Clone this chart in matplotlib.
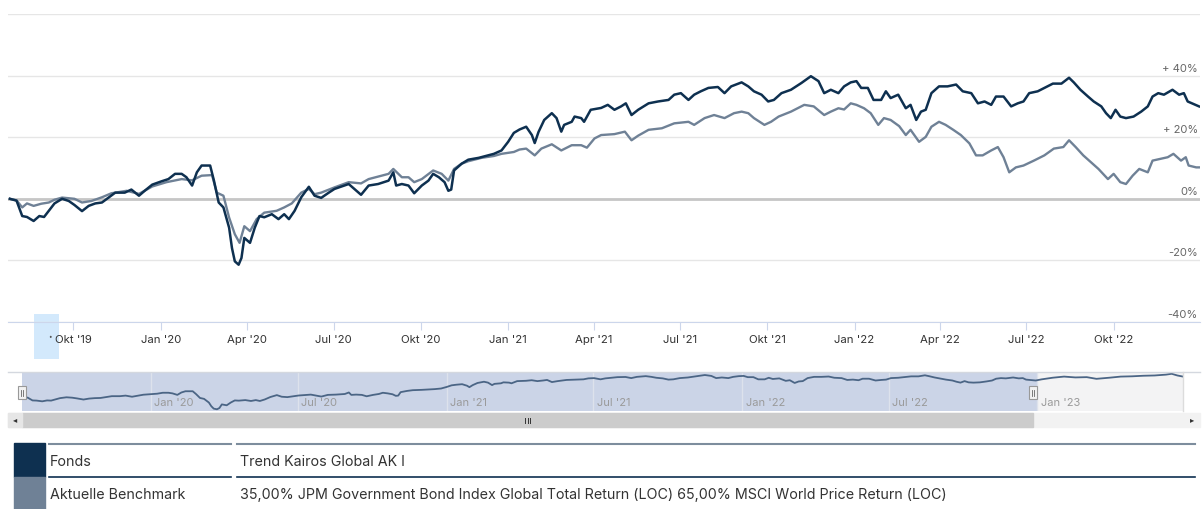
import pandas as pd
import matplotlib
matplotlib.use("Agg")
import matplotlib.pyplot as plt
from matplotlib.patches import Rectangle
from matplotlib.lines import Line2D

plt.rcParams['font.family'] = ['Inter', 'DejaVu Sans']

# --- data (percent performance) ---
fund_dates = [
    "2019-07-26", "2019-08-02", "2019-08-08", "2019-08-13", "2019-08-20", "2019-08-26", "2019-08-31",
    "2019-09-05", "2019-09-11", "2019-09-19", "2019-09-26", "2019-10-02", "2019-10-10", "2019-10-17",
    "2019-10-24", "2019-10-31", "2019-11-07", "2019-11-14", "2019-11-24", "2019-12-01", "2019-12-09",
    "2019-12-15", "2019-12-23",
    "2020-01-02", "2020-01-09", "2020-01-16", "2020-01-23", "2020-01-28", "2020-02-03", "2020-02-08",
    "2020-02-13", "2020-02-22", "2020-02-26", "2020-03-02", "2020-03-07", "2020-03-13", "2020-03-16",
    "2020-03-19", "2020-03-23", "2020-03-26", "2020-03-29", "2020-04-04", "2020-04-09", "2020-04-14",
    "2020-04-19", "2020-04-27", "2020-05-04", "2020-05-10", "2020-05-15", "2020-05-21", "2020-05-28",
    "2020-06-05", "2020-06-11", "2020-06-18", "2020-06-26", "2020-07-02", "2020-07-17", "2020-07-23",
    "2020-07-30", "2020-08-07", "2020-08-17", "2020-08-28", "2020-09-02", "2020-09-05", "2020-09-11",
    "2020-09-18", "2020-09-24", "2020-10-02", "2020-10-09", "2020-10-14", "2020-10-20", "2020-10-26",
    "2020-10-30", "2020-11-02", "2020-11-05", "2020-11-13", "2020-11-20", "2020-12-01", "2020-12-11",
    "2020-12-17", "2020-12-25",
    "2021-01-01", "2021-01-07", "2021-01-13", "2021-01-20", "2021-01-26", "2021-01-29", "2021-02-02",
    "2021-02-08", "2021-02-16", "2021-02-21", "2021-02-26", "2021-03-01", "2021-03-09", "2021-03-12",
    "2021-03-19", "2021-03-22", "2021-03-29", "2021-04-09", "2021-04-16", "2021-04-23", "2021-04-30",
    "2021-05-05", "2021-05-11", "2021-05-18", "2021-05-29", "2021-06-08", "2021-06-19", "2021-06-25",
    "2021-07-02", "2021-07-10", "2021-07-16", "2021-07-23", "2021-07-31", "2021-08-10", "2021-08-17",
    "2021-08-24", "2021-09-04", "2021-09-11", "2021-09-17", "2021-09-25", "2021-10-02", "2021-10-08",
    "2021-10-16", "2021-10-26", "2021-11-06", "2021-11-16", "2021-11-24", "2021-11-30", "2021-12-07",
    "2021-12-15", "2021-12-21", "2021-12-28",
    "2022-01-03", "2022-01-08", "2022-01-15", "2022-01-21", "2022-01-29", "2022-02-03", "2022-02-08",
    "2022-02-16", "2022-02-24", "2022-03-01", "2022-03-07", "2022-03-12", "2022-03-17", "2022-03-23",
    "2022-03-31", "2022-04-09", "2022-04-18", "2022-04-25", "2022-05-04", "2022-05-11", "2022-05-18",
    "2022-05-25", "2022-05-30", "2022-06-07", "2022-06-15", "2022-06-22", "2022-06-28", "2022-07-04",
    "2022-07-13", "2022-07-20", "2022-07-29", "2022-08-07", "2022-08-15", "2022-08-20", "2022-08-27",
    "2022-09-04", "2022-09-10", "2022-09-18", "2022-09-23", "2022-09-28", "2022-10-03", "2022-10-08",
    "2022-10-14", "2022-10-22", "2022-10-30", "2022-11-06", "2022-11-11", "2022-11-17", "2022-11-23",
    "2022-12-02", "2022-12-09", "2022-12-14", "2022-12-18", "2022-12-24", "2022-12-30",
]
fund_values = [
    0.0, -0.6, -5.6, -5.9, -7.2, -5.6, -5.9,
    -3.9, -1.5, 0.0, -0.7, -2.0, -4.0, -2.3,
    -1.5, -1.2, 0.4, 2.0, 2.0, 3.0, 1.0,
    2.6, 4.6,
    5.7, 6.4, 8.1, 8.1, 7.0, 4.3, 8.6,
    10.8, 10.8, 5.9, -1.2, -2.8, -9.4, -16.0,
    -20.3, -21.4, -19.2, -12.7, -14.3, -9.4, -5.6,
    -6.0, -5.0, -6.6, -5.0, -6.6, -3.9, 0.5,
    3.9, 1.0, 0.3, 2.0, 3.2, 4.8, 3.2,
    1.3, 4.3, 4.8, 5.9, 8.6, 4.3, 4.8,
    4.3, 1.8, 4.3, 5.9, 8.1, 7.0, 5.4,
    2.6, 3.0, 9.2, 11.4, 12.7, 13.3, 14.1,
    14.6, 15.7,
    18.5, 21.4, 22.5, 23.4, 20.7, 18.1, 21.7,
    25.6, 27.8, 26.2, 21.8, 24.0, 25.0, 26.7,
    26.2, 25.0, 28.9, 29.5, 30.5, 28.9, 30.0,
    31.0, 27.2, 28.9, 31.0, 31.6, 32.1, 33.8,
    34.3, 32.1, 33.8, 34.9, 36.0, 36.3, 34.3,
    36.5, 37.8, 36.5, 34.9, 33.8, 31.6, 32.1,
    34.3, 35.4, 37.6, 39.8, 38.2, 34.3, 35.4,
    34.3, 36.5, 37.8,
    38.2, 36.0, 36.0, 32.1, 32.1, 34.9, 32.7,
    33.8, 29.4, 30.5, 25.6, 28.3, 28.9, 34.3,
    36.5, 36.5, 37.1, 34.9, 34.3, 31.0, 31.6,
    30.5, 33.2, 33.2, 30.0, 31.0, 31.6, 34.3,
    34.9, 36.0, 37.4, 37.4, 39.3, 37.8, 35.4,
    33.2, 31.6, 30.0, 27.8, 26.2, 28.9, 26.7,
    26.2, 26.7, 28.3, 30.0, 33.2, 34.3, 33.8,
    35.4, 33.8, 34.3, 31.6, 30.8, 30.0,
]

bench_dates = [
    "2019-07-26", "2019-08-02", "2019-08-08", "2019-08-13", "2019-08-20", "2019-08-28", "2019-09-05",
    "2019-09-11", "2019-09-19", "2019-10-02", "2019-10-10", "2019-10-20", "2019-10-31", "2019-11-10",
    "2019-11-26", "2019-12-09", "2019-12-23",
    "2020-01-07", "2020-01-23", "2020-02-03", "2020-02-13", "2020-02-24", "2020-02-29", "2020-03-07",
    "2020-03-13", "2020-03-19", "2020-03-24", "2020-03-29", "2020-04-04", "2020-04-11", "2020-04-19",
    "2020-05-02", "2020-05-10", "2020-05-18", "2020-05-28", "2020-06-05", "2020-06-11", "2020-06-18",
    "2020-07-02", "2020-07-17", "2020-07-30", "2020-08-07", "2020-08-28", "2020-09-02", "2020-09-11",
    "2020-09-18", "2020-09-24", "2020-10-02", "2020-10-14", "2020-10-23", "2020-10-30", "2020-11-05",
    "2020-11-13", "2020-11-20", "2020-12-04", "2020-12-17", "2020-12-25",
    "2021-01-07", "2021-01-13", "2021-01-20", "2021-01-29", "2021-02-05", "2021-02-16", "2021-02-26",
    "2021-03-09", "2021-03-19", "2021-03-25", "2021-04-02", "2021-04-09", "2021-04-23", "2021-05-04",
    "2021-05-11", "2021-05-18", "2021-05-29", "2021-06-12", "2021-06-25", "2021-07-10", "2021-07-16",
    "2021-07-27", "2021-08-06", "2021-08-17", "2021-08-27", "2021-09-04", "2021-09-11", "2021-09-17",
    "2021-09-28", "2021-10-05", "2021-10-13", "2021-10-26", "2021-11-09", "2021-11-19", "2021-11-30",
    "2021-12-07", "2021-12-15", "2021-12-21", "2021-12-28",
    "2022-01-03", "2022-01-11", "2022-01-18", "2022-01-26", "2022-02-01", "2022-02-08", "2022-02-17",
    "2022-02-24", "2022-03-01", "2022-03-10", "2022-03-17", "2022-03-23", "2022-03-31", "2022-04-07",
    "2022-04-15", "2022-04-23", "2022-05-02", "2022-05-09", "2022-05-16", "2022-05-25", "2022-06-01",
    "2022-06-07", "2022-06-13", "2022-06-20", "2022-06-28", "2022-07-09", "2022-07-20", "2022-07-30",
    "2022-08-09", "2022-08-15", "2022-08-22", "2022-08-30", "2022-09-07", "2022-09-15", "2022-09-25",
    "2022-10-01", "2022-10-08", "2022-10-14", "2022-10-21", "2022-10-28", "2022-11-06", "2022-11-11",
    "2022-11-20", "2022-11-27", "2022-12-03", "2022-12-11", "2022-12-16", "2022-12-19", "2022-12-27",
    "2022-12-30",
]
bench_values = [
    0.0, -0.5, -2.8, -1.5, -2.3, -1.6, -1.2,
    -0.3, 0.4, 0.0, -1.2, -0.7, 0.5, 1.8,
    2.6, 1.6, 4.0,
    5.4, 6.4, 6.0, 7.5, 7.7, 2.0, 1.0,
    -6.1, -11.5, -14.3, -8.9, -10.5, -6.6, -4.5,
    -3.9, -2.8, -1.5, 2.0, 3.2, 1.5, 2.0,
    3.7, 5.4, 5.0, 6.4, 8.1, 9.7, 7.0,
    7.0, 5.4, 6.4, 9.2, 8.1, 5.9, 9.7,
    11.4, 12.2, 13.3, 13.9, 14.6,
    15.2, 16.0, 16.3, 14.1, 16.3, 17.7, 15.7,
    17.4, 17.4, 16.6, 19.6, 20.7, 21.0, 21.8,
    19.0, 20.5, 22.4, 22.9, 24.5, 25.0, 24.0,
    26.2, 27.2, 26.2, 27.8, 28.3, 27.8, 26.2,
    24.0, 25.0, 26.7, 28.3, 30.5, 30.0, 27.2,
    28.3, 29.4, 29.0, 31.0,
    30.5, 29.4, 27.8, 24.0, 26.2, 25.6, 23.6,
    20.7, 22.4, 18.5, 20.1, 23.4, 25.0, 24.0,
    22.4, 20.7, 18.0, 14.1, 14.1, 15.7, 16.8,
    13.5, 8.6, 10.2, 10.8, 12.4, 14.1, 16.3,
    16.8, 19.0, 16.8, 14.1, 11.9, 9.7, 6.4,
    8.1, 5.4, 4.8, 7.5, 9.7, 8.6, 12.4,
    13.0, 13.5, 14.6, 12.4, 13.5, 10.8, 10.2,
    10.2,
]

# fund continues into 2023 in the navigator only
nav_extra_dates = ["2023-01-06", "2023-01-20", "2023-02-03", "2023-02-17", "2023-03-03", "2023-03-15",
                   "2023-03-31", "2023-04-14", "2023-04-28", "2023-05-12", "2023-05-26", "2023-06-09",
                   "2023-06-16", "2023-06-23", "2023-06-30"]
nav_extra_values = [32.0, 35.0, 37.0, 35.5, 36.0, 33.0, 35.0, 37.0, 37.5, 38.5, 39.0, 40.5, 42.0, 39.0, 37.0]

x_ticks = ["2019-10-01", "2020-01-01", "2020-04-01", "2020-07-01", "2020-10-01", "2021-01-01",
           "2021-04-01", "2021-07-01", "2021-10-01", "2022-01-01", "2022-04-01", "2022-07-01", "2022-10-01"]
x_labels = ["Okt '19", "Jan '20", "Apr '20", "Jul '20", "Okt '20", "Jan '21", "Apr '21",
            "Jul '21", "Okt '21", "Jan '22", "Apr '22", "Jul '22", "Okt '22"]
y_ticks = [40, 20, 0, -20, -40]
y_labels = ["+ 40%", "+ 20%", "0%", "-20%", "-40%"]
nav_ticks = ["2020-01-01", "2020-07-01", "2021-01-01", "2021-07-01", "2022-01-01", "2022-07-01", "2023-01-01"]
nav_labels = ["Jan '20", "Jul '20", "Jan '21", "Jul '21", "Jan '22", "Jul '22", "Jan '23"]

legend_names = ["Fonds", "Aktuelle Benchmark"]
legend_texts = ["Trend Kairos Global AK I",
                "35,00% JPM Government Bond Index Global Total Return (LOC) 65,00% MSCI World Price Return (LOC)"]

FUND_C = '#0e3050'
BENCH_C = '#6f8196'

# --- figure in pixel layout ---
W, H = 1203, 509


def box(x0, y0, x1, y1):
    return [x0 / W, 1 - y1 / H, (x1 - x0) / W, (y1 - y0) / H]


def fx(x):
    return x / W


def fy(y):
    return 1 - y / H


fig = plt.figure(figsize=(W / 100, H / 100), dpi=100)

# hover band on the x axis (own background axes so it stays under the labels)
band = fig.add_axes(box(34, 314, 59, 359), zorder=-1)
band.set_facecolor('#d3e9fc')
band.axis('off')
band.add_patch(Rectangle((0, 0), 1, 1, transform=band.transAxes, color='#d3e9fc'))

# main chart
ax = fig.add_axes(box(8, 14, 1200, 322), zorder=1)
ax.set_facecolor('none')
f_d = pd.to_datetime(fund_dates)
b_d = pd.to_datetime(bench_dates)
ax.plot(b_d, bench_values, color=BENCH_C, lw=1.7, zorder=3)
ax.plot(f_d, fund_values, color=FUND_C, lw=1.8, zorder=4)

ax.set_xlim(pd.Timestamp("2019-07-24"), pd.Timestamp("2022-12-31"))
ax.set_ylim(-40, 60)
ax.set_yticks([-40, -20, 0, 20, 40, 60])
ax.yaxis.set_ticklabels([])
ax.tick_params(axis='y', length=0)
ax.grid(axis='y', color='#e6e6e6', lw=1)
ax.axhline(0, color='#c6c6c6', lw=2, zorder=2)
for s in ['top', 'left', 'right']:
    ax.spines[s].set_visible(False)
ax.spines['bottom'].set_color('#ccd6eb')

for v, lab in zip(y_ticks, y_labels):
    ax.annotate(lab, xy=(1, v), xycoords=('axes fraction', 'data'), xytext=(-1.5, 1.5),
                textcoords='offset points', ha='right', va='bottom', fontsize=8, color='#666666')

ax.set_xticks(pd.to_datetime(x_ticks))
ax.set_xticklabels(x_labels, fontsize=8.2, color='#333333')
ax.tick_params(axis='x', length=5.5, color='#ccd6eb', pad=4)
fig.text(fx(50), fy(337), '•', fontsize=4.5, color='#555555', ha='center', va='center')

# navigator
nav = fig.add_axes(box(22, 372, 1183, 411))
nav.set_facecolor('none')
nav_start, sel_end, nav_end = pd.Timestamp("2019-07-26"), pd.Timestamp("2022-12-31"), pd.Timestamp("2023-06-30")
nav.set_xlim(nav_start, nav_end)
nav.set_ylim(-24.5, 45.2)
nav.axvspan(nav_start, sel_end, color='#cbd4e7', zorder=0, lw=0)
nav.axvspan(sel_end, nav_end, color='#f3f3f4', zorder=0, lw=0)
for d, lab in zip(pd.to_datetime(nav_ticks), nav_labels):
    nav.axvline(d, color='#dde2ec', lw=1, zorder=1)
    nav.annotate(lab, xy=(d, 0.2), xycoords=('data', 'axes fraction'), xytext=(2.5, 0),
                 textcoords='offset points', va='center', fontsize=8, color='#9a9a9a')
nav.plot(list(f_d) + list(pd.to_datetime(nav_extra_dates)), fund_values + nav_extra_values,
         color='#4b6585', lw=1.3, zorder=3)
nav.axis('off')
fig.lines.append(Line2D([fx(8), fx(1200)], [fy(371.5), fy(371.5)], transform=fig.transFigure,
                        color='#d4d8df', lw=1))
fig.lines.append(Line2D([fx(1183), fx(1183)], [fy(372), fy(411)], transform=fig.transFigure,
                        color='#dcdcdc', lw=1))

# navigator handles
for hx in [22, 1033]:
    fig.patches.append(Rectangle((fx(hx - 4), fy(399)), 8 / W, 13 / H, transform=fig.transFigure,
                                 fc='#f2f2f2', ec='#999999', lw=0.8, zorder=5))
    for dx in [-1.3, 1.3]:
        fig.lines.append(Line2D([fx(hx + dx), fx(hx + dx)], [fy(389.5), fy(395.5)], transform=fig.transFigure,
                                color='#666666', lw=0.6, zorder=6))

# scrollbar
fig.patches.append(Rectangle((fx(8), fy(427)), 1192 / W, 14 / H, transform=fig.transFigure,
                             color='#f2f2f2', zorder=1))
fig.patches.append(Rectangle((fx(22), fy(427)), 1011 / W, 14 / H, transform=fig.transFigure,
                             color='#cccccc', zorder=2))
fig.patches.append(Rectangle((fx(8), fy(427)), 14 / W, 14 / H, transform=fig.transFigure,
                             color='#e6e6e6', zorder=2))
fig.text(fx(15), fy(420), '◂', fontsize=6, color='#333333', ha='center', va='center')
fig.text(fx(1192), fy(420), '▸', fontsize=6, color='#333333', ha='center', va='center')
for gx in [525, 527.5, 530]:
    fig.lines.append(Line2D([fx(gx), fx(gx)], [fy(417.5), fy(422.5)], transform=fig.transFigure,
                            color='#333333', lw=0.7, zorder=3))

# legend table
fig.patches.append(Rectangle((fx(14), fy(477)), 31 / W, 34 / H, transform=fig.transFigure, color=FUND_C))
fig.patches.append(Rectangle((fx(14), fy(509)), 31 / W, 32 / H, transform=fig.transFigure, color=BENCH_C))
for x0, x1 in [(49, 231), (237, 1195)]:
    fig.lines.append(Line2D([fx(x0), fx(x1)], [fy(443.5), fy(443.5)], transform=fig.transFigure,
                            color='#7d8d9d', lw=1.5))
    fig.lines.append(Line2D([fx(x0), fx(x1)], [fy(476.5), fy(476.5)], transform=fig.transFigure,
                            color=FUND_C, lw=1.2))
for row, (name, txt) in enumerate(zip(legend_names, legend_texts)):
    yy = fy(462 + row * 33)
    fig.text(fx(50), yy, name, fontsize=10.3, color='#333333', va='center')
    fig.text(fx(240), yy, txt, fontsize=10.3, color='#333333', va='center')

fig.savefig("out.png", dpi=100)
